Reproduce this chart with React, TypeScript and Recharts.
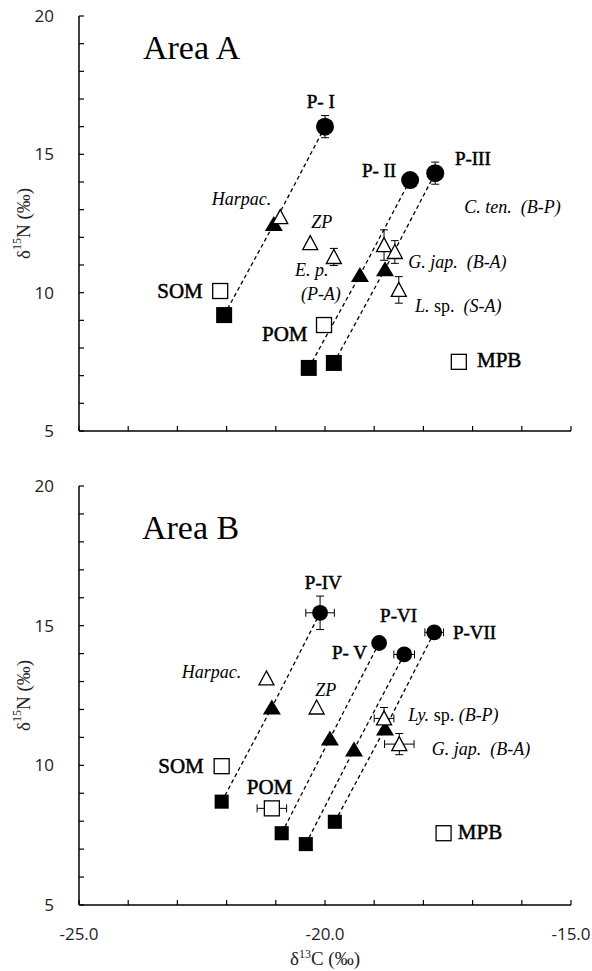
import { ScatterChart, Scatter, XAxis, YAxis, ErrorBar } from 'recharts';

const SERIF = '"Liberation Serif", "Times New Roman", serif';
const SANS = '"Open Sans", "Noto Sans", sans-serif';

// axis ticks
const xTicks = [-25, -24, -23, -22, -21, -20, -19, -18, -17, -16, -15];
const yTicks = [5, 6, 7, 8, 9, 10, 11, 12, 13, 14, 15, 16, 17, 18, 19, 20];
const xLabelled = [-25, -20, -15];
const yLabelled = [5, 10, 15, 20];

// Area A
const filledSquaresA = [
  { x: -22.05, y: 9.19 },
  { x: -20.33, y: 7.28 },
  { x: -19.82, y: 7.46 },
];
const filledTrianglesA = [
  { x: -21.04, y: 12.48 },
  { x: -19.29, y: 10.64 },
  { x: -18.78, y: 10.85 },
];
const consumersA = [
  { name: 'P- I', x: -20.0, y: 16.0, ey: 0.4 },
  { name: 'P- II', x: -18.27, y: 14.07 },
  { name: 'P-III', x: -17.76, y: 14.32, ey: 0.4 },
];
const sourcesA = [
  { name: 'SOM', x: -22.13, y: 10.06 },
  { name: 'POM', x: -20.02, y: 8.83 },
  { name: 'MPB', x: -17.28, y: 7.5 },
];
const preyA = [
  { name: 'Harpac.', x: -20.91, y: 12.73 },
  { name: 'ZP', x: -20.3, y: 11.79 },
  { name: 'E. p. (P-A)', x: -19.82, y: 11.29, ey: 0.31 },
  { name: 'C. ten. (B-P)', x: -18.8, y: 11.72, ey: 0.55 },
  { name: 'G. jap. (B-A)', x: -18.58, y: 11.47, ey: 0.41 },
  { name: 'L. sp. (S-A)', x: -18.5, y: 10.1, ey: 0.48 },
];
const labelsA = [
  { x: -23.7, y: 18.45, text: 'Area A', kind: 'title' },
  { x: -20.37, y: 16.66, text: 'P- I', kind: 'roman' },
  { x: -19.25, y: 14.18, text: 'P- II', kind: 'roman' },
  { x: -17.36, y: 14.61, text: 'P-III', kind: 'roman' },
  { x: -17.17, y: 12.88, text: '_C. ten.  (B-P)_', kind: 'species' },
  { x: -18.31, y: 10.89, text: '_G. jap.  (B-A)_', kind: 'species' },
  { x: -18.17, y: 9.3, text: '_L._ sp.  _(S-A)_', kind: 'species' },
  { x: -20.61, y: 10.6, text: '_E. p._', kind: 'species' },
  { x: -20.49, y: 9.73, text: '_(P-A)_', kind: 'species' },
  { x: -20.28, y: 12.34, text: '_ZP_', kind: 'species' },
  { x: -22.3, y: 13.17, text: '_Harpac._', kind: 'species' },
  { x: -23.41, y: 9.81, text: 'SOM', kind: 'source' },
  { x: -21.28, y: 8.25, text: 'POM', kind: 'source' },
  { x: -16.91, y: 7.31, text: 'MPB', kind: 'source' },
];

// Area B
const filledSquaresB = [
  { x: -22.1, y: 8.7 },
  { x: -20.88, y: 7.57 },
  { x: -20.39, y: 7.18 },
  { x: -19.8, y: 7.98 },
];
const filledTrianglesB = [
  { x: -21.08, y: 12.07 },
  { x: -19.9, y: 10.96 },
  { x: -19.41, y: 10.57 },
  { x: -18.78, y: 11.32 },
];
const consumersB = [
  { name: 'P-IV', x: -20.1, y: 15.46, ex: 0.29, ey: 0.6 },
  { name: 'P-V', x: -18.9, y: 14.38 },
  { name: 'P-VI', x: -18.39, y: 13.97, ex: 0.21 },
  { name: 'P-VII', x: -17.78, y: 14.76, ex: 0.19 },
];
const sourcesB = [
  { name: 'SOM', x: -22.1, y: 9.97 },
  { name: 'POM', x: -21.08, y: 8.46, ex: 0.3 },
  { name: 'MPB', x: -17.59, y: 7.57 },
];
const preyB = [
  { name: 'Harpac.', x: -21.19, y: 13.11 },
  { name: 'ZP', x: -20.17, y: 12.07 },
  { name: 'Ly. sp. (B-P)', x: -18.8, y: 11.68, ex: 0.2, ey: 0.39 },
  { name: 'G. jap. (B-A)', x: -18.49, y: 10.76, ex: 0.3, ey: 0.38 },
];
const labelsB = [
  { x: -23.72, y: 18.12, text: 'Area B', kind: 'title' },
  { x: -20.41, y: 16.3, text: 'P-IV', kind: 'roman' },
  { x: -18.88, y: 15.14, text: 'P-VI', kind: 'roman' },
  { x: -19.86, y: 13.8, text: 'P- V', kind: 'roman' },
  { x: -17.4, y: 14.54, text: 'P-VII', kind: 'roman' },
  { x: -20.2, y: 12.48, text: '_ZP_', kind: 'species' },
  { x: -18.31, y: 11.59, text: '_Ly._ sp. _(B-P)_', kind: 'species' },
  { x: -17.83, y: 10.37, text: '_G. jap.  (B-A)_', kind: 'species' },
  { x: -22.91, y: 13.11, text: '_Harpac._', kind: 'species' },
  { x: -23.39, y: 9.71, text: 'SOM', kind: 'source' },
  { x: -21.59, y: 8.97, text: 'POM', kind: 'source' },
  { x: -17.3, y: 7.35, text: 'MPB', kind: 'source' },
];

const labelStyle: Record<string, any> = {
  title: { fontSize: 34 },
  roman: { fontSize: 19, stroke: '#000', strokeWidth: 0.5 },
  source: { fontSize: 21, stroke: '#000', strokeWidth: 0.5 },
  species: { fontSize: 18 },
};

const Empty = () => <g />;

const makeShapes = (k: number) => ({
  square: (p: any) => (
    <rect x={p.cx - 8 * k} y={p.cy - 8 * k} width={16 * k} height={16 * k} fill="#000" />
  ),
  openSquare: (p: any) => (
    <rect x={p.cx - 7.5} y={p.cy - 7.5} width={15} height={15} fill="#fff" stroke="#000" strokeWidth={1.3} />
  ),
  triangle: (p: any) => (
    <polygon
      points={`${p.cx},${p.cy - 8} ${p.cx - 9},${p.cy + 7} ${p.cx + 9},${p.cy + 7}`}
      fill="#000"
    />
  ),
  openTriangle: (p: any) => (
    <polygon
      points={`${p.cx},${p.cy - 7.5} ${p.cx - 7.5},${p.cy + 6.5} ${p.cx + 7.5},${p.cy + 6.5}`}
      fill="#fff"
      stroke="#000"
      strokeWidth={1.3}
    />
  ),
  circle: (p: any) => <circle cx={p.cx} cy={p.cy} r={9 * k} fill="#000" />,
});

const renderLabel = (p: any) => {
  const d = p.payload;
  const parts = String(d.text).split('_');
  return (
    <text
      x={p.cx}
      y={p.cy}
      fontFamily={SERIF}
      fill="#000"
      style={{ whiteSpace: 'pre' }}
      {...labelStyle[d.kind]}
    >
      {parts.map((s, i) => (
        <tspan key={i} fontStyle={i % 2 === 1 ? 'italic' : 'normal'}>
          {s}
        </tspan>
      ))}
    </text>
  );
};

const YTitle = (props: any) => {
  const vb = props.viewBox || { x: 0, y: 0, width: 79, height: 415 };
  const cx = vb.x + 23;
  const cy = vb.y + vb.height / 2;
  return (
    <text
      transform={`translate(${cx},${cy}) rotate(-90)`}
      textAnchor="middle"
      dominantBaseline="central"
      fontFamily={SERIF}
      fontSize={19}
      fill="#222"
    >
      δ<tspan fontSize={12} dy={-6}>15</tspan>
      <tspan dy={6}>N (‰)</tspan>
    </text>
  );
};

const XTitle = (props: any) => {
  const vb = props.viewBox || { x: 79, y: 435, width: 492, height: 66 };
  return (
    <text
      x={vb.x + vb.width / 2}
      y={vb.y + 60}
      textAnchor="middle"
      fontFamily={SERIF}
      fontSize={19}
      fill="#222"
    >
      δ<tspan fontSize={12} dy={-7}>13</tspan>
      <tspan dy={7}>C (‰)</tspan>
    </text>
  );
};

type PanelProps = {
  height: number;
  xAxisHeight: number;
  showX: boolean;
  k: number;
  squares: any[];
  triangles: any[];
  consumers: any[];
  sources: any[];
  prey: any[];
  labels: any[];
};

function Panel({ height, xAxisHeight, showX, k, squares, triangles, consumers, sources, prey, labels }: PanelProps) {
  const shapes = makeShapes(k);
  const chains = consumers.map((c, i) => [squares[i], triangles[i], c]);
  const axisLine = { stroke: '#000', strokeWidth: 1.5 };
  const tickLine = { stroke: '#000', strokeWidth: 1.2 };
  return (
    <ScatterChart width={592} height={height} margin={{ top: 16, right: 21, bottom: 0, left: 0 }}>
      <XAxis
        type="number"
        dataKey="x"
        domain={[-25, -15]}
        ticks={xTicks}
        interval={0}
        allowDataOverflow
        height={xAxisHeight}
        axisLine={axisLine}
        tickLine={tickLine}
        tickSize={-5}
        tickMargin={28}
        tick={{ fontFamily: SANS, fontSize: 17, fill: '#222' }}
        tickFormatter={(v: number) => (showX && xLabelled.includes(v) ? v.toFixed(1) : '')}
        label={showX ? (p: any) => <XTitle {...p} /> : undefined}
      />
      <YAxis
        type="number"
        dataKey="y"
        domain={[5, 20]}
        ticks={yTicks}
        interval={0}
        allowDataOverflow
        width={79}
        axisLine={axisLine}
        tickLine={tickLine}
        tickSize={-5}
        tickMargin={30}
        tick={{ fontFamily: SANS, fontSize: 17, fill: '#222' }}
        tickFormatter={(v: number) => (yLabelled.includes(v) ? String(v) : '')}
        label={(p: any) => <YTitle {...p} />}
      />
      {chains.map((c, i) => (
        <Scatter
          key={'line' + i}
          data={c}
          shape={Empty}
          line={{ stroke: '#000', strokeWidth: 1.3, strokeDasharray: '4 3' }}
          isAnimationActive={false}
        />
      ))}
      <Scatter data={squares} shape={shapes.square} isAnimationActive={false} />
      <Scatter data={triangles} shape={shapes.triangle} isAnimationActive={false} />
      <Scatter data={consumers} shape={shapes.circle} isAnimationActive={false}>
        <ErrorBar dataKey="ey" direction="y" width={4} stroke="#000" strokeWidth={1} />
        <ErrorBar dataKey="ex" direction="x" width={4} stroke="#000" strokeWidth={1} />
      </Scatter>
      <Scatter data={sources} shape={shapes.openSquare} isAnimationActive={false}>
        <ErrorBar dataKey="ex" direction="x" width={4} stroke="#000" strokeWidth={1} />
      </Scatter>
      <Scatter data={prey} shape={shapes.openTriangle} isAnimationActive={false}>
        <ErrorBar dataKey="ey" direction="y" width={4} stroke="#000" strokeWidth={1} />
        <ErrorBar dataKey="ex" direction="x" width={4} stroke="#000" strokeWidth={1} />
      </Scatter>
      <Scatter data={labels} shape={renderLabel} isAnimationActive={false} />
    </ScatterChart>
  );
}

export default function App() {
  return (
    <div style={{ position: 'absolute', left: 0, top: 0, width: 592, height: 971, background: '#fff' }}>
      <Panel
        height={460}
        xAxisHeight={29}
        showX={false}
        k={1}
        squares={filledSquaresA}
        triangles={filledTrianglesA}
        consumers={consumersA}
        sources={sourcesA}
        prey={preyA}
        labels={labelsA}
      />
      <div style={{ position: 'absolute', left: 0, top: 470 }}>
        <Panel
          height={501}
          xAxisHeight={66}
          showX
          k={0.88}
          squares={filledSquaresB}
          triangles={filledTrianglesB}
          consumers={consumersB}
          sources={sourcesB}
          prey={preyB}
          labels={labelsB}
        />
      </div>
    </div>
  );
}
